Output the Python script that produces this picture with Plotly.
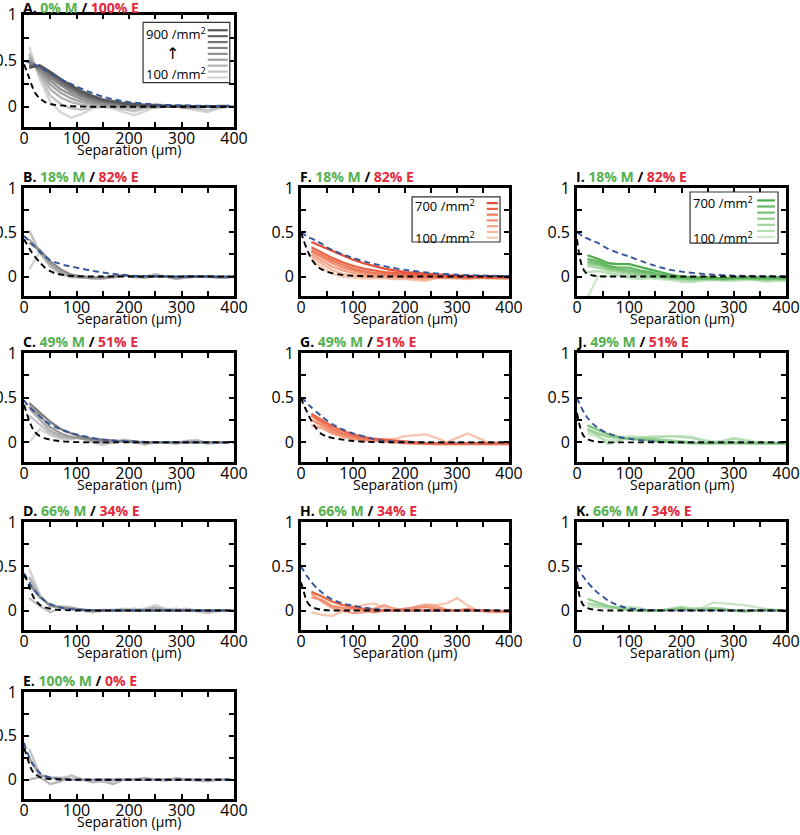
import plotly.graph_objects as go

W, H = 800, 835

# ---------------- data ----------------
X_GRAY = [10, 30, 50, 70, 90, 110, 130, 150, 170, 190, 210, 230, 250, 270, 290, 310, 330, 350, 370, 390]
X_COLOR = [20, 40, 60, 80, 100, 120, 140, 160, 180, 200, 220, 240, 260, 280, 300, 320, 340, 360, 380, 400]
DX = [0, 5, 10, 15, 20, 30, 40, 50, 60, 80, 100, 125, 150, 175, 200, 250, 300, 400]

# Panel A (dark=900 -> light=100)
A900 = [0.42, 0.45, 0.38, 0.30, 0.23, 0.17, 0.12, 0.08, 0.06, 0.04, 0.03, 0.02, 0.02, 0.01, 0.01, 0.01, 0.0, 0.0, 0.01, 0.01]
A800 = [0.44, 0.44, 0.36, 0.28, 0.21, 0.15, 0.10, 0.07, 0.05, 0.03, 0.02, 0.02, 0.01, 0.01, 0.0, 0.01, 0.0, 0.0, 0.0, 0.01]
A700 = [0.46, 0.43, 0.34, 0.26, 0.19, 0.13, 0.09, 0.06, 0.04, 0.03, 0.02, 0.01, 0.01, 0.0, 0.0, 0.0, 0.0, 0.0, 0.0, 0.0]
A600 = [0.48, 0.41, 0.31, 0.23, 0.16, 0.11, 0.07, 0.05, 0.03, 0.02, 0.01, 0.01, 0.0, 0.0, 0.0, 0.0, 0.0, 0.0, 0.0, 0.0]
A500 = [0.50, 0.39, 0.28, 0.19, 0.13, 0.08, 0.05, 0.03, 0.02, 0.01, 0.01, 0.0, 0.0, 0.0, 0.0, -0.01, 0.0, 0.0, 0.0, 0.0]
A400 = [0.53, 0.37, 0.24, 0.15, 0.09, 0.05, 0.03, 0.02, 0.01, 0.0, 0.0, 0.0, -0.01, 0.0, 0.0, 0.0, -0.01, 0.0, 0.0, 0.0]
A300 = [0.56, 0.35, 0.19, 0.10, 0.05, 0.02, 0.01, 0.0, 0.0, -0.01, -0.02, -0.01, 0.0, 0.0, 0.0, -0.01, 0.0, 0.0, -0.01, 0.0]
A200 = [0.58, 0.33, 0.12, 0.03, -0.02, -0.03, -0.01, 0.0, -0.01, -0.03, -0.05, -0.02, 0.0, 0.01, 0.0, -0.01, -0.02, -0.04, -0.01, 0.0]
A100 = [0.65, 0.30, 0.05, -0.06, -0.12, -0.08, -0.02, 0.0, -0.02, -0.06, -0.09, -0.05, 0.0, 0.02, 0.0, -0.02, -0.04, -0.06, -0.02, 0.0]

B1 = [0.38, 0.30, 0.17, 0.08, 0.02, 0.0, -0.01, -0.01, 0.0, 0.01, 0.0, -0.01, 0.0, 0.0, -0.01, 0.0, 0.0, 0.0, -0.01, -0.01]
B2 = [0.42, 0.28, 0.14, 0.05, 0.0, -0.01, -0.02, -0.02, -0.01, 0.01, 0.0, -0.01, 0.01, 0.0, -0.02, -0.01, 0.0, 0.0, -0.01, -0.01]
B3 = [0.52, 0.27, 0.12, 0.03, -0.01, -0.01, -0.02, -0.02, 0.0, 0.02, -0.01, -0.01, 0.02, 0.0, -0.03, -0.01, 0.0, 0.0, -0.01, -0.01]
B4 = [0.08, 0.28, 0.11, 0.03, 0.0, 0.0, -0.01, -0.01, 0.0, 0.02, -0.01, 0.0, 0.03, 0.0, -0.03, -0.01, 0.0, -0.01, -0.01, -0.01]

C1 = [0.44, 0.34, 0.23, 0.15, 0.10, 0.06, 0.04, 0.03, 0.02, 0.01, 0.01, 0.0, 0.0, 0.0, 0.0, 0.0, 0.0, 0.0, 0.0, 0.0]
C2 = [0.40, 0.30, 0.17, 0.10, 0.06, 0.04, 0.02, 0.01, 0.01, 0.01, 0.0, 0.0, 0.0, 0.0, 0.0, 0.0, 0.0, 0.0, 0.0, 0.0]
C3 = [0.38, 0.26, 0.13, 0.07, 0.05, 0.05, 0.02, 0.0, 0.0, 0.02, 0.0, -0.01, 0.0, 0.0, 0.0, 0.01, 0.01, 0.0, 0.0, 0.0]
C4 = [0.30, 0.20, 0.10, 0.05, 0.04, 0.06, 0.01, -0.02, 0.0, 0.03, 0.01, -0.02, 0.0, 0.0, -0.01, 0.01, 0.02, -0.01, 0.0, 0.0]
C5 = [0.0, 0.15, 0.08, 0.04, 0.03, 0.07, 0.0, -0.03, 0.0, 0.03, 0.01, -0.03, 0.0, 0.0, -0.02, 0.02, 0.03, -0.02, 0.0, 0.0]

D1 = [0.30, 0.15, 0.06, 0.03, 0.02, 0.01, 0.0, 0.0, 0.0, 0.0, 0.0, 0.0, 0.0, 0.0, 0.0, 0.0, 0.0, 0.0, 0.0, 0.0]
D2 = [0.38, 0.16, 0.05, 0.04, 0.03, 0.01, -0.01, 0.0, 0.0, 0.01, 0.0, 0.01, 0.03, 0.01, 0.0, 0.01, 0.0, -0.01, 0.0, 0.0]
D3 = [0.47, 0.18, 0.04, 0.05, 0.04, 0.0, -0.02, 0.0, 0.01, 0.02, 0.01, 0.02, 0.06, 0.02, 0.01, 0.02, 0.0, -0.02, -0.01, 0.0]
D4 = [0.14, 0.05, -0.02, 0.03, 0.02, 0.01, -0.02, 0.01, 0.0, 0.01, 0.02, 0.0, 0.03, 0.01, 0.02, 0.0, -0.01, -0.03, 0.0, 0.0]

E1 = [0.25, 0.05, 0.02, 0.01, 0.0, 0.0, 0.0, 0.0, 0.0, 0.0, 0.0, 0.0, 0.0, 0.0, 0.0, 0.0, 0.0, 0.0, 0.0, 0.0]
E2 = [0.35, 0.06, 0.03, 0.02, 0.04, 0.01, -0.01, -0.01, -0.02, 0.0, 0.0, 0.01, 0.0, 0.0, 0.01, 0.0, 0.0, -0.01, 0.0, 0.0]
E3 = [0.0, 0.03, -0.05, -0.02, 0.05, 0.0, -0.03, -0.02, -0.05, 0.0, 0.0, 0.02, 0.0, -0.01, 0.02, 0.0, -0.01, -0.02, 0.0, 0.0]

F700 = [0.39, 0.34, 0.29, 0.24, 0.19, 0.15, 0.12, 0.09, 0.07, 0.05, 0.04, 0.03, 0.02, 0.015, 0.01, 0.005, 0.0, 0.0, 0.0, -0.01]
F600 = [0.33, 0.27, 0.21, 0.16, 0.12, 0.09, 0.07, 0.05, 0.04, 0.03, 0.02, 0.01, 0.0, 0.0, 0.0, -0.01, -0.01, -0.01, -0.01, -0.01]
F500 = [0.30, 0.24, 0.18, 0.13, 0.09, 0.06, 0.04, 0.03, 0.02, 0.01, 0.0, 0.0, -0.01, -0.01, -0.01, -0.01, -0.01, -0.01, -0.01, -0.01]
F400 = [0.28, 0.21, 0.15, 0.10, 0.07, 0.04, 0.03, 0.02, 0.01, 0.0, -0.01, -0.01, -0.01, -0.01, -0.01, -0.01, -0.01, -0.01, -0.01, -0.01]
F300 = [0.25, 0.18, 0.11, 0.07, 0.04, 0.02, 0.01, 0.0, -0.01, -0.01, -0.02, -0.02, -0.01, -0.01, -0.01, -0.02, -0.01, -0.01, -0.02, -0.02]
F200 = [0.22, 0.14, 0.07, 0.03, 0.01, 0.0, -0.01, -0.01, -0.02, -0.02, -0.03, -0.04, -0.01, -0.01, -0.02, -0.02, -0.01, -0.02, -0.02, -0.02]
F100 = [0.18, 0.10, 0.03, 0.0, -0.01, -0.02, -0.02, -0.02, -0.03, -0.03, -0.04, -0.05, -0.02, -0.02, -0.02, -0.03, -0.02, -0.02, -0.02, -0.03]

G1 = [0.32, 0.25, 0.18, 0.13, 0.09, 0.06, 0.04, 0.03, 0.02, 0.01, 0.0, -0.01, -0.01, -0.01, -0.01, -0.01, -0.01, -0.01, -0.01, -0.01]
G2 = [0.30, 0.22, 0.15, 0.10, 0.07, 0.04, 0.03, 0.02, 0.01, 0.0, -0.01, -0.01, -0.01, -0.02, -0.01, -0.01, -0.01, -0.02, -0.01, -0.01]
G3 = [0.25, 0.19, 0.12, 0.08, 0.05, 0.03, 0.02, 0.01, 0.0, -0.01, -0.01, -0.02, -0.02, -0.02, -0.02, -0.02, -0.02, -0.02, -0.02, -0.02]
G4 = [0.19, 0.16, 0.10, 0.06, 0.04, 0.02, 0.02, 0.03, 0.01, 0.0, -0.01, -0.01, -0.02, -0.02, -0.02, -0.02, -0.02, -0.02, -0.02, -0.02]
G5 = [0.30, 0.20, 0.12, 0.07, 0.05, 0.04, 0.03, 0.03, 0.04, 0.07, 0.08, 0.09, 0.05, 0.0, 0.05, 0.10, 0.05, 0.0, 0.0, -0.01]

H1 = [0.21, 0.16, 0.10, 0.06, 0.04, 0.02, 0.01, 0.0, 0.0, 0.0, 0.0, 0.0, 0.0, 0.0, 0.0, 0.0, 0.0, 0.0, -0.01, -0.01]
H2 = [0.15, 0.12, 0.05, 0.03, 0.02, 0.0, -0.02, 0.0, 0.0, 0.02, 0.03, 0.04, 0.02, 0.0, 0.0, 0.01, 0.0, 0.0, -0.01, -0.01]
H3 = [0.19, 0.10, 0.03, 0.0, -0.03, -0.02, 0.02, 0.06, 0.02, 0.01, 0.04, 0.06, 0.05, 0.01, 0.0, 0.02, 0.0, -0.01, -0.01, -0.01]
H4 = [-0.02, -0.05, -0.06, -0.01, 0.03, 0.06, 0.08, 0.03, 0.0, 0.01, 0.04, 0.07, 0.06, 0.08, 0.14, 0.06, 0.0, -0.02, -0.02, -0.01]

I700 = [0.24, 0.20, 0.15, 0.14, 0.14, 0.11, 0.08, 0.05, 0.02, 0.0, -0.01, -0.01, -0.01, -0.02, -0.01, -0.01, -0.01, -0.01, -0.01, -0.01]
I600 = [0.20, 0.17, 0.12, 0.10, 0.10, 0.07, 0.05, 0.02, 0.0, -0.01, -0.01, -0.02, -0.02, -0.02, -0.02, -0.01, -0.02, -0.02, -0.02, -0.02]
I500 = [0.17, 0.15, 0.10, 0.08, 0.07, 0.05, 0.03, 0.01, -0.01, -0.02, -0.02, -0.02, -0.02, -0.03, -0.02, -0.02, -0.02, -0.02, -0.02, -0.03]
I400 = [0.15, 0.13, 0.09, 0.07, 0.05, 0.03, 0.01, 0.0, -0.02, -0.02, -0.03, -0.03, -0.03, -0.03, -0.03, -0.02, -0.03, -0.03, -0.03, -0.03]
I300 = [0.12, 0.10, 0.07, 0.05, 0.03, 0.01, 0.0, -0.01, -0.02, -0.03, -0.04, -0.03, -0.03, -0.04, -0.03, -0.03, -0.03, -0.04, -0.03, -0.04]
I200 = [0.05, 0.06, 0.04, 0.02, 0.0, -0.02, -0.01, -0.02, -0.03, -0.05, -0.06, -0.04, -0.03, -0.04, -0.04, -0.03, -0.03, -0.05, -0.04, -0.05]
I100 = [-0.24, 0.0, 0.01, 0.01, -0.02, -0.03, -0.02, -0.03, -0.04, -0.06, -0.06, -0.05, -0.04, -0.05, -0.05, -0.04, -0.04, -0.06, -0.05, -0.05]

J1 = [0.19, 0.14, 0.09, 0.06, 0.04, 0.03, 0.02, 0.01, 0.0, 0.0, -0.01, -0.01, -0.01, -0.01, -0.01, -0.01, -0.01, -0.01, -0.01, -0.01]
J2 = [0.15, 0.10, 0.06, 0.05, 0.04, 0.04, 0.04, 0.03, 0.02, 0.01, 0.0, -0.01, -0.01, 0.0, 0.0, -0.01, -0.01, -0.01, -0.01, -0.01]
J3 = [0.13, 0.08, -0.02, 0.02, 0.05, 0.05, 0.06, 0.06, 0.07, 0.06, 0.05, 0.02, 0.0, 0.01, 0.04, 0.02, 0.0, 0.0, -0.01, -0.01]
J4 = [0.10, 0.06, 0.02, 0.04, 0.07, 0.06, 0.06, 0.07, 0.07, 0.07, 0.06, 0.03, 0.01, 0.02, 0.05, 0.03, 0.01, 0.0, 0.0, -0.01]

K1 = [0.13, 0.09, 0.05, 0.03, 0.01, 0.0, 0.0, 0.0, 0.01, 0.02, 0.01, 0.01, 0.02, 0.01, 0.0, -0.01, 0.0, 0.01, 0.0, 0.0]
K2 = [0.08, 0.06, 0.04, 0.02, 0.01, 0.0, 0.0, 0.0, 0.02, 0.04, 0.02, 0.02, 0.03, 0.02, 0.0, -0.01, 0.0, 0.0, 0.0, 0.0]
K3 = [0.05, 0.04, 0.03, 0.04, 0.04, 0.03, 0.0, 0.0, 0.02, 0.03, 0.02, 0.03, 0.09, 0.08, 0.07, 0.06, 0.04, 0.02, 0.01, 0.0]

# dashed reference curves (black = fast, blue = slow)
A_black = [0.46, 0.39, 0.31, 0.23, 0.16, 0.09, 0.05, 0.03, 0.02, 0.008, 0.003, 0, 0, 0, 0, 0, 0, 0]
A_blue = [0.50, 0.49, 0.48, 0.47, 0.46, 0.43, 0.40, 0.37, 0.33, 0.27, 0.22, 0.16, 0.11, 0.075, 0.05, 0.025, 0.015, 0.005]
B_black = [0.42, 0.37, 0.32, 0.27, 0.23, 0.16, 0.10, 0.06, 0.035, 0.012, 0.004, 0, 0, 0, 0, 0, 0, 0]
B_blue = [0.46, 0.43, 0.40, 0.37, 0.34, 0.28, 0.23, 0.185, 0.16, 0.125, 0.10, 0.07, 0.045, 0.025, 0.01, 0.003, 0, 0]
C_black = [0.42, 0.33, 0.24, 0.17, 0.12, 0.07, 0.045, 0.03, 0.02, 0.008, 0.003, 0, 0, 0, 0, 0, 0, 0]
C_blue = [0.47, 0.43, 0.40, 0.37, 0.34, 0.29, 0.24, 0.20, 0.17, 0.12, 0.09, 0.055, 0.03, 0.018, 0.01, 0.004, 0, 0]
D_black = [0.40, 0.35, 0.27, 0.19, 0.13, 0.065, 0.035, 0.02, 0.01, 0.004, 0, 0, 0, 0, 0, 0, 0, 0]
D_blue = [0.42, 0.37, 0.32, 0.27, 0.23, 0.16, 0.11, 0.075, 0.05, 0.022, 0.01, 0.004, 0, 0, 0, 0, 0, 0]
E_black = [0.36, 0.28, 0.18, 0.11, 0.07, 0.03, 0.015, 0.008, 0.004, 0, 0, 0, 0, 0, 0, 0, 0, 0]
E_blue = [0.42, 0.33, 0.26, 0.19, 0.15, 0.08, 0.045, 0.025, 0.015, 0.005, 0, 0, 0, 0, 0, 0, 0, 0]
F_black = [0.50, 0.41, 0.33, 0.26, 0.20, 0.12, 0.08, 0.055, 0.038, 0.018, 0.008, 0.003, 0, 0, 0, 0, 0, 0]
F_blue = [0.50, 0.48, 0.46, 0.44, 0.43, 0.40, 0.37, 0.33, 0.30, 0.25, 0.21, 0.165, 0.13, 0.10, 0.075, 0.04, 0.02, 0.005]
G_black = [0.50, 0.42, 0.36, 0.30, 0.24, 0.15, 0.09, 0.065, 0.05, 0.03, 0.015, 0.006, 0.002, 0, 0, 0, 0, 0]
G_blue = [0.50, 0.48, 0.45, 0.42, 0.39, 0.34, 0.29, 0.245, 0.205, 0.145, 0.10, 0.06, 0.025, 0.01, 0.004, 0, 0, 0]
H_black = [0.32, 0.22, 0.12, 0.07, 0.045, 0.02, 0.008, 0.003, 0, 0, 0, 0, 0, 0, 0, 0, 0, 0]
H_blue = [0.50, 0.45, 0.40, 0.36, 0.32, 0.255, 0.205, 0.16, 0.125, 0.08, 0.055, 0.03, 0.012, 0.004, 0, 0, 0, 0]
I_black = [0.42, 0.22, 0.11, 0.055, 0.03, 0.012, 0.005, 0, 0, 0, 0, 0, 0, 0, 0, 0, 0, 0]
I_blue = [0.50, 0.48, 0.46, 0.44, 0.43, 0.40, 0.38, 0.345, 0.31, 0.265, 0.225, 0.17, 0.12, 0.08, 0.055, 0.025, 0.01, 0]
J_black = [0.33, 0.19, 0.10, 0.055, 0.035, 0.015, 0.007, 0.003, 0, 0, 0, 0, 0, 0, 0, 0, 0, 0]
J_blue = [0.50, 0.43, 0.37, 0.32, 0.275, 0.21, 0.16, 0.125, 0.10, 0.06, 0.04, 0.02, 0.008, 0.003, 0, 0, 0, 0]
K_black = [0.33, 0.16, 0.08, 0.045, 0.028, 0.012, 0.005, 0, 0, 0, 0, 0, 0, 0, 0, 0, 0, 0]
K_blue = [0.50, 0.45, 0.40, 0.36, 0.32, 0.255, 0.20, 0.155, 0.11, 0.055, 0.025, 0.01, 0.003, 0, 0, 0, 0, 0]

X_TICKS = [0, 100, 200, 300, 400]
X_TICKTEXT = ["0", "100", "200", "300", "400"]
Y_TICKS = [0, 0.5, 1]
Y_TICKTEXT = ["0", "0.5", "1"]

# ---------------- styles ----------------
GRAY9 = ["#565656", "#656565", "#747474", "#838383", "#929292", "#a2a2a2", "#b2b2b2", "#c3c3c3", "#d5d5d5"]
RED7 = ["#e4513a", "#e96548", "#ed7a5b", "#f08f70", "#f3a386", "#f6b79d", "#f8cab5"]
GREEN7 = ["#52ad50", "#64b763", "#78c177", "#8dcb8b", "#a2d5a0", "#b7dfb4", "#cce8c8"]
GRN = "#55b04f"
RED = "#e3283a"
BLUE = "#33549a"
FONT = "Open Sans"

# box positions in window pixels
COLS = [(24, 234), (301, 509), (577, 786)]
ROWS = [(14.5, 127), (188, 296), (353, 462), (522, 630), (692, 799)]
TITLE_GAP = [-4.5, 0, 0, 0, 0]

panels = [
    ("A", "0% M", "100% E", 0, 0, X_GRAY, [A900, A800, A700, A600, A500, A400, A300, A200, A100], GRAY9, A_black, A_blue),
    ("B", "18% M", "82% E", 0, 1, X_GRAY, [B1, B2, B3, B4], ["#8a8a8a", "#a4a4a4", "#bdbdbd", "#d0d0d0"], B_black, B_blue),
    ("C", "49% M", "51% E", 0, 2, X_GRAY, [C1, C2, C3, C4, C5], ["#7d7d7d", "#979797", "#adadad", "#c2c2c2", "#d6d6d6"], C_black, C_blue),
    ("D", "66% M", "34% E", 0, 3, X_GRAY, [D1, D2, D3, D4], ["#8c8c8c", "#b0b0b0", "#cfcfcf", "#bdbdbd"], D_black, D_blue),
    ("E", "100% M", "0% E", 0, 4, X_GRAY, [E1, E2, E3], ["#a0a0a0", "#c4c4c4", "#b5b5b5"], E_black, E_blue),
    ("F", "18% M", "82% E", 1, 1, X_COLOR, [F700, F600, F500, F400, F300, F200, F100], RED7, F_black, F_blue),
    ("G", "49% M", "51% E", 1, 2, X_COLOR, [G1, G2, G3, G4, G5], ["#e96548", "#ee7a5b", "#f18f70", "#f4a486", "#f8c4ae"], G_black, G_blue),
    ("H", "66% M", "34% E", 1, 3, X_COLOR, [H1, H2, H3, H4], ["#ea6a4c", "#f08f70", "#f3a386", "#f8c4ae"], H_black, H_blue),
    ("I", "18% M", "82% E", 2, 1, X_COLOR, [I700, I600, I500, I400, I300, I200, I100], GREEN7, I_black, I_blue),
    ("J", "49% M", "51% E", 2, 2, X_COLOR, [J1, J2, J3, J4], ["#7cc27a", "#97d094", "#b3ddb0", "#cbe7c7"], J_black, J_blue),
    ("K", "66% M", "34% E", 2, 3, X_COLOR, [K1, K2, K3], ["#8dcb8b", "#a8d8a5", "#c8e6c4"], K_black, K_blue),
]

fig = go.Figure()
annotations = []
shapes = []


def px_x(p):
    return p / W


def px_y(p):
    return 1 - p / H


for i, (key, mtxt, etxt, c, r, xs, lines, colors, blk, blu) in enumerate(panels):
    n = i + 1
    xa = "x" if n == 1 else f"x{n}"
    ya = "y" if n == 1 else f"y{n}"
    x0, x1 = COLS[c]
    y0, y1 = ROWS[r]
    axcommon = dict(showline=True, linewidth=2.6, linecolor="black", mirror="ticks",
                    ticks="inside", ticklen=5, tickwidth=1.5, tickcolor="black",
                    showgrid=False, zeroline=False, automargin=False,
                    tickfont=dict(family=FONT, size=16, color="black"))
    fig.layout[("xaxis" if n == 1 else f"xaxis{n}")] = dict(
        domain=[px_x(x0), px_x(x1)], range=[0, 400], anchor=ya,
        tickmode="array", tickvals=X_TICKS, ticktext=X_TICKTEXT, ticklabelstandoff=-5,
        minor=dict(ticks="inside", ticklen=5, tickwidth=1.5, tickcolor="black", dtick=50, tick0=0, showgrid=False),
        **axcommon)
    fig.layout[("yaxis" if n == 1 else f"yaxis{n}")] = dict(
        domain=[px_y(y1), px_y(y0)], range=[-0.22, 1.0], anchor=xa,
        tickmode="array", tickvals=Y_TICKS, ticktext=Y_TICKTEXT, ticklabelstandoff=1,
        minor=dict(ticks="inside", ticklen=5, tickwidth=1.5, tickcolor="black", dtick=0.25, tick0=0, showgrid=False),
        **axcommon)

    # solid lines, light first so dark ends on top
    for ys, col in list(zip(lines, colors))[::-1]:
        fig.add_trace(go.Scatter(x=xs, y=ys, mode="lines", xaxis=xa, yaxis=ya,
                                 line=dict(color=col, width=2.3), showlegend=False,
                                 hoverinfo="skip"))
    fig.add_trace(go.Scatter(x=DX, y=blu, mode="lines", xaxis=xa, yaxis=ya,
                             line=dict(color=BLUE, width=1.9, dash="6px,4px", shape="spline", smoothing=0.6),
                             showlegend=False, hoverinfo="skip"))
    fig.add_trace(go.Scatter(x=DX, y=blk, mode="lines", xaxis=xa, yaxis=ya,
                             line=dict(color="black", width=1.9, dash="6px,4px", shape="spline", smoothing=0.6),
                             showlegend=False, hoverinfo="skip"))

    title = (f"<b>{key}.</b> <b><span style='color:{GRN}'>{mtxt}</span></b>"
             f"<b> / </b><b><span style='color:{RED}'>{etxt}</span></b>")
    annotations.append(dict(text=title, xref="paper", yref="paper", x=px_x(x0 - 3),
                            y=px_y(y0 - TITLE_GAP[r]),
                            xanchor="left", yanchor="bottom", showarrow=False,
                            font=dict(family=FONT, size=14, color="black")))
    annotations.append(dict(text="Separation (μm)", xref="paper", yref="paper",
                            x=px_x((x0 + x1) / 2), y=px_y(y1 + 11), xanchor="center", yanchor="top",
                            showarrow=False, font=dict(family=FONT, size=14, color="black")))


# ---------------- legends ----------------
def legend(n, box, top_txt, bot_txt, line_x, line_y, colors, arrow=None):
    xr = "x domain" if n == 1 else f"x{n} domain"
    yr = "y domain" if n == 1 else f"y{n} domain"
    shapes.append(dict(type="rect", xref=xr, yref=yr, x0=box[0], x1=box[1], y0=box[2], y1=box[3],
                       line=dict(color="#333333", width=1.2), fillcolor="white", layer="above"))
    k = len(colors)
    for j, col in enumerate(colors):
        yy = line_y[0] + (line_y[1] - line_y[0]) * j / (k - 1)
        shapes.append(dict(type="line", xref=xr, yref=yr, x0=line_x[0], x1=line_x[1], y0=yy, y1=yy,
                           line=dict(color=col, width=2.2), layer="above"))
    for txt, yy in ((top_txt[0], top_txt[2]), (bot_txt[0], bot_txt[2])):
        annotations.append(dict(text=txt, xref=xr, yref=yr, x=top_txt[1], y=yy, xanchor="left",
                                yanchor="middle", showarrow=False,
                                font=dict(family=FONT, size=13, color="black")))
    if arrow:
        annotations.append(dict(text="↑", xref=xr, yref=yr, x=arrow[0], y=arrow[1],
                                xanchor="center", yanchor="middle", showarrow=False,
                                font=dict(family="DejaVu Sans", size=16, color="black")))


legend(1, (0.567, 0.98, 0.395, 0.93), ("900 /mm<sup>2</sup>", 0.57, 0.83), ("100 /mm<sup>2</sup>", 0.57, 0.48),
       (0.875, 0.97), (0.86, 0.44), GRAY9, arrow=(0.708, 0.65))
legend(6, (0.534, 0.957, 0.50, 0.917), ("700 /mm<sup>2</sup>", 0.54, 0.84), ("100 /mm<sup>2</sup>", 0.54, 0.54),
       (0.893, 0.947), (0.86, 0.54), RED7)
legend(9, (0.541, 0.962, 0.49, 0.963), ("700 /mm<sup>2</sup>", 0.547, 0.87), ("100 /mm<sup>2</sup>", 0.547, 0.546),
       (0.862, 0.947), (0.885, 0.546), GREEN7)

fig.update_layout(template="none", width=W, height=H, margin=dict(l=0, r=0, t=0, b=0, autoexpand=False),
                  paper_bgcolor="white", plot_bgcolor="white",
                  annotations=annotations, shapes=shapes, showlegend=False,
                  font=dict(family=FONT, color="black"))

# remove the browser's default 8px body margin so the figure fills the window
fig.write_html("out.html", config={"displayModeBar": False},
               post_script="document.body.style.margin='0px';document.body.style.overflow='hidden';")
